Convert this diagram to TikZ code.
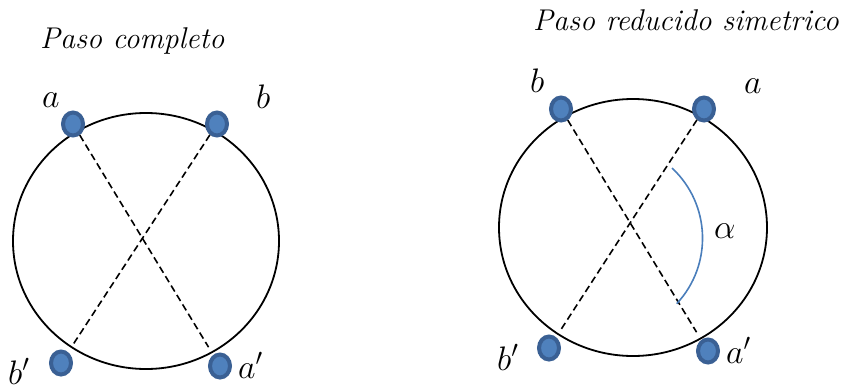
\RequirePackage{fix-cm}
\documentclass[tikz,border=0pt]{standalone}
\usepackage{xcolor}
\usepackage{tikz}
\usetikzlibrary{shapes.geometric, positioning}
\definecolor{dotblue}{HTML}{4F81BD}
\definecolor{dotrim}{HTML}{3A6094}
\definecolor{arcblue}{HTML}{4A7EBB}

\begin{document}
\begin{tikzpicture}[x=1pt, y=1pt,
    pole/.style={ellipse, draw=dotrim, fill=dotblue, line width=4pt, minimum width=20pt, minimum height=23pt, inner sep=0pt},
    lbl/.style={anchor=base west, inner sep=0pt, font=\fontsize{34}{40}\selectfont},
    ttl/.style={anchor=base west, inner sep=0pt, font=\fontsize{30}{36}\selectfont\itshape},
    ring/.style={draw, line width=1.8pt},
    axis/.style={draw, line width=1.6pt, dash pattern=on 7pt off 4pt, shorten >=9pt}
]
    \useasboundingbox (0,0) rectangle (855,-389);

    % paso completo
    \node[ttl] (title1) at (40,-48) {Paso completo};
    \draw[ring] (146,-241) ellipse [x radius=133, y radius=128];
    \node[pole] (a1) at (73,-124) {};
    \node[pole] (b1) at (217,-124) {};
    \node[pole] (b1p) at (61,-363) {};
    \node[pole] (a1p) at (220,-366) {};
    \node[lbl] (la1) at (42,-107) {$a$};
    \node[lbl] (lb1) at (256,-108) {$b$};
    \node[lbl] (lb1p) at (8,-384) {$b'$};
    \node[lbl] (la1p) at (238,-378) {$a'$};
    \draw[axis] (a1) -- (a1p);
    \draw[axis] (b1) -- (b1p);

    % paso reducido simetrico
    \node[ttl] (title2) at (533,-30) {Paso reducido simetrico};
    \draw[ring] (633,-227.5) ellipse [x radius=134, y radius=128.5];
    \node[pole] (b2) at (561,-109) {};
    \node[pole] (a2) at (704,-109) {};
    \node[pole] (b2p) at (549,-348) {};
    \node[pole] (a2p) at (708,-351) {};
    \node[lbl] (lb2) at (530,-92) {$b$};
    \node[lbl] (la2) at (744,-93) {$a$};
    \node[lbl] (lb2p) at (497,-370) {$b'$};
    \node[lbl] (la2p) at (726,-363) {$a'$};
    \draw[axis] (b2) -- (a2p);
    \draw[axis] (a2) -- (b2p);
    \draw[arcblue, line width=1.6pt] (672,-168) arc[start angle=47, end angle=-43, radius=96];
    \node[lbl] (lalpha) at (714,-238) {$\alpha$};
\end{tikzpicture}
\end{document}
